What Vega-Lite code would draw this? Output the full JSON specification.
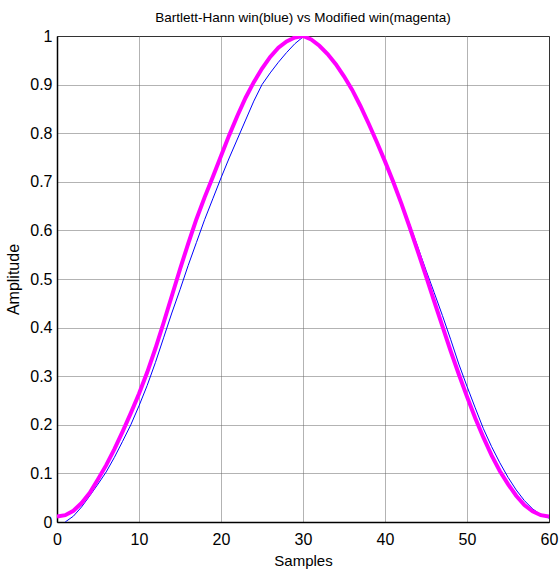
{
  "$schema": "https://vega.github.io/schema/vega-lite/v6.json",
  "width": 492,
  "height": 486,
  "autosize": {"type": "none"},
  "padding": {"left": 57, "top": 36, "right": 10, "bottom": 53},
  "background": "white",
  "title": {
    "text": "Bartlett-Hann win(blue) vs Modified win(magenta)",
    "font": "Liberation Sans, Arial, sans-serif",
    "fontSize": 13.5,
    "fontWeight": "normal",
    "color": "black",
    "anchor": "middle",
    "offset": 4
  },
  "datasets": {
    "blue": [
      {"n": 1, "amp": 0.0}, {"n": 2, "amp": 0.012}, {"n": 3, "amp": 0.031}, {"n": 4, "amp": 0.054},
      {"n": 5, "amp": 0.078}, {"n": 6, "amp": 0.103}, {"n": 7, "amp": 0.133}, {"n": 8, "amp": 0.166},
      {"n": 9, "amp": 0.2}, {"n": 10, "amp": 0.239}, {"n": 11, "amp": 0.281}, {"n": 12, "amp": 0.328},
      {"n": 13, "amp": 0.379}, {"n": 14, "amp": 0.43}, {"n": 15, "amp": 0.478}, {"n": 16, "amp": 0.528},
      {"n": 17, "amp": 0.575}, {"n": 18, "amp": 0.622}, {"n": 19, "amp": 0.665}, {"n": 20, "amp": 0.708},
      {"n": 21, "amp": 0.749}, {"n": 22, "amp": 0.788}, {"n": 23, "amp": 0.827}, {"n": 24, "amp": 0.866},
      {"n": 25, "amp": 0.9}, {"n": 26, "amp": 0.924}, {"n": 27, "amp": 0.946}, {"n": 28, "amp": 0.966},
      {"n": 29, "amp": 0.984}, {"n": 30, "amp": 0.998}, {"n": 31, "amp": 0.993}, {"n": 32, "amp": 0.98},
      {"n": 33, "amp": 0.963}, {"n": 34, "amp": 0.942}, {"n": 35, "amp": 0.917}, {"n": 36, "amp": 0.889},
      {"n": 37, "amp": 0.856}, {"n": 38, "amp": 0.82}, {"n": 39, "amp": 0.782}, {"n": 40, "amp": 0.742},
      {"n": 41, "amp": 0.701}, {"n": 42, "amp": 0.658}, {"n": 43, "amp": 0.613}, {"n": 44, "amp": 0.566},
      {"n": 45, "amp": 0.518}, {"n": 46, "amp": 0.472}, {"n": 47, "amp": 0.425}, {"n": 48, "amp": 0.376},
      {"n": 49, "amp": 0.325}, {"n": 50, "amp": 0.279}, {"n": 51, "amp": 0.235}, {"n": 52, "amp": 0.192},
      {"n": 53, "amp": 0.155}, {"n": 54, "amp": 0.122}, {"n": 55, "amp": 0.092}, {"n": 56, "amp": 0.066},
      {"n": 57, "amp": 0.044}, {"n": 58, "amp": 0.027}, {"n": 59, "amp": 0.015}, {"n": 60, "amp": 0.008}
    ],
    "magenta": [
      {"n": 0, "amp": 0.011}, {"n": 1, "amp": 0.014}, {"n": 2, "amp": 0.023}, {"n": 3, "amp": 0.039},
      {"n": 4, "amp": 0.06}, {"n": 5, "amp": 0.088}, {"n": 6, "amp": 0.117}, {"n": 7, "amp": 0.15},
      {"n": 8, "amp": 0.186}, {"n": 9, "amp": 0.224}, {"n": 10, "amp": 0.264}, {"n": 11, "amp": 0.308},
      {"n": 12, "amp": 0.357}, {"n": 13, "amp": 0.41}, {"n": 14, "amp": 0.465}, {"n": 15, "amp": 0.52},
      {"n": 16, "amp": 0.573}, {"n": 17, "amp": 0.623}, {"n": 18, "amp": 0.668}, {"n": 19, "amp": 0.71},
      {"n": 20, "amp": 0.753}, {"n": 21, "amp": 0.796}, {"n": 22, "amp": 0.836}, {"n": 23, "amp": 0.873},
      {"n": 24, "amp": 0.905}, {"n": 25, "amp": 0.933}, {"n": 26, "amp": 0.957}, {"n": 27, "amp": 0.976},
      {"n": 28, "amp": 0.989}, {"n": 29, "amp": 0.997}, {"n": 30, "amp": 1.0}, {"n": 31, "amp": 0.993},
      {"n": 32, "amp": 0.98}, {"n": 33, "amp": 0.963}, {"n": 34, "amp": 0.942}, {"n": 35, "amp": 0.917},
      {"n": 36, "amp": 0.889}, {"n": 37, "amp": 0.856}, {"n": 38, "amp": 0.82}, {"n": 39, "amp": 0.782},
      {"n": 40, "amp": 0.742}, {"n": 41, "amp": 0.7}, {"n": 42, "amp": 0.655}, {"n": 43, "amp": 0.607},
      {"n": 44, "amp": 0.557}, {"n": 45, "amp": 0.506}, {"n": 46, "amp": 0.454}, {"n": 47, "amp": 0.403},
      {"n": 48, "amp": 0.352}, {"n": 49, "amp": 0.304}, {"n": 50, "amp": 0.258}, {"n": 51, "amp": 0.214},
      {"n": 52, "amp": 0.174}, {"n": 53, "amp": 0.137}, {"n": 54, "amp": 0.105}, {"n": 55, "amp": 0.078},
      {"n": 56, "amp": 0.054}, {"n": 57, "amp": 0.035}, {"n": 58, "amp": 0.022}, {"n": 59, "amp": 0.014},
      {"n": 60, "amp": 0.011}
    ]
  },
  "layer": [
    {
      "data": {"name": "blue"},
      "mark": {"type": "line", "color": "#0000ff", "strokeWidth": 1, "clip": true},
      "encoding": {
        "x": {
          "field": "n", "type": "quantitative",
          "scale": {"domain": [0, 60], "nice": false, "zero": false},
          "axis": {"title": "Samples", "values": [0, 10, 20, 30, 40, 50, 60], "format": "d"}
        },
        "y": {
          "field": "amp", "type": "quantitative",
          "scale": {"domain": [0, 1], "nice": false},
          "axis": {"title": "Amplitude", "values": [0, 0.1, 0.2, 0.3, 0.4, 0.5, 0.6, 0.7, 0.8, 0.9, 1], "format": "~g"}
        }
      }
    },
    {
      "data": {"name": "magenta"},
      "mark": {"type": "line", "color": "#ff00ff", "strokeWidth": 4, "clip": true},
      "encoding": {
        "x": {"field": "n", "type": "quantitative"},
        "y": {"field": "amp", "type": "quantitative"}
      }
    }
  ],
  "config": {
    "view": {"stroke": "black", "strokeWidth": 1},
    "axis": {
      "labelFont": "Liberation Sans, Arial, sans-serif",
      "labelFontSize": 16,
      "labelColor": "black",
      "titleFont": "Liberation Sans, Arial, sans-serif",
      "titleFontSize": 15,
      "titleFontWeight": "normal",
      "titleColor": "black",
      "ticks": false,
      "domain": true,
      "domainColor": "black",
      "domainWidth": 1.5,
      "grid": true,
      "gridColor": "#666666",
      "gridDash": [1, 1],
      "gridWidth": 1,
      "labelFlush": false,
      "labelOverlap": false
    },
    "axisX": {"labelPadding": 9, "titlePadding": 6},
    "axisY": {"labelPadding": 5, "titlePadding": 8, "titleFontSize": 16}
  }
}
